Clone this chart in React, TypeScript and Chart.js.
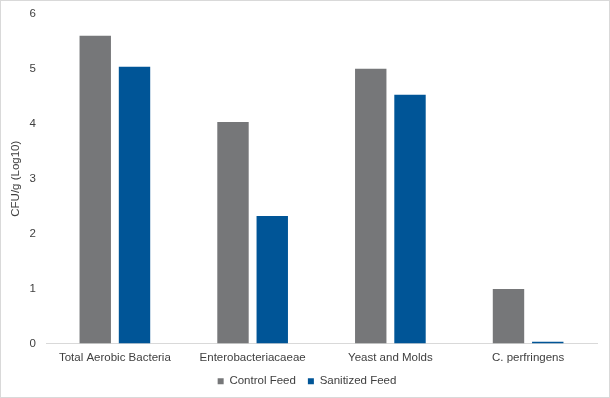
import React, { useEffect, useRef } from "react";
import { Chart, registerables } from "chart.js";

Chart.register(...registerables);

const categories = ["Total Aerobic Bacteria", "Enterobacteriacaeae", "Yeast and Molds", "C. perfringens"];
const controlFeed = [5.6, 4.03, 5.0, 0.99];
const sanitizedFeed = [5.04, 2.32, 4.53, 0.03];
const seriesNames = ["Control Feed", "Sanitized Feed"];
const yTitle = "CFU/g (Log10)";

export default function App() {
  const ref = useRef<HTMLCanvasElement>(null);
  useEffect(() => {
    document.body.style.margin = "0";
    const ctx = ref.current!;
    const font = { family: "'Liberation Sans', Arial, sans-serif", size: 11.5 };
    const chart = new Chart(ctx, {
      type: "bar",
      data: {
        labels: categories,
        datasets: [
          { label: seriesNames[0], data: controlFeed, backgroundColor: "#767779", categoryPercentage: 0.57, barPercentage: 0.8 },
          { label: seriesNames[1], data: sanitizedFeed, backgroundColor: "#005597", categoryPercentage: 0.57, barPercentage: 0.8 },
        ],
      },
      options: {
        responsive: false,
        animation: false,
        layout: { padding: { top: 6, right: 12, bottom: 0, left: 16 } },
        plugins: {
          legend: {
            position: "bottom",
            labels: { boxWidth: 6, boxHeight: 6, color: "#404040", font, padding: 12 },
          },
          tooltip: { enabled: false },
        },
        scales: {
          x: {
            grid: { display: false, drawTicks: false },
            border: { display: true, color: "#d9d9d9" },
            ticks: { color: "#404040", font, maxRotation: 0, padding: 7 },
            afterFit: (s: any) => { s.height = 20; },
          },
          y: {
            min: 0,
            max: 6,
            grid: { display: false, drawTicks: true, tickLength: 4 },
            border: { display: false },
            ticks: { stepSize: 1, color: "#404040", font, padding: 6 },
            title: { display: true, text: yTitle, color: "#404040", font, padding: { top: -8, bottom: 4 } },
            afterFit: (s: any) => { s.width = 29; },
          },
        },
      },
    });
    return () => chart.destroy();
  }, []);
  return (
    <div style={{ width: 610, height: 398, boxSizing: "border-box", border: "1px solid #d9d9d9", background: "#fff", position: "relative" }}>
      <canvas ref={ref} width={608} height={396} style={{ display: "block" }} />
    </div>
  );
}
